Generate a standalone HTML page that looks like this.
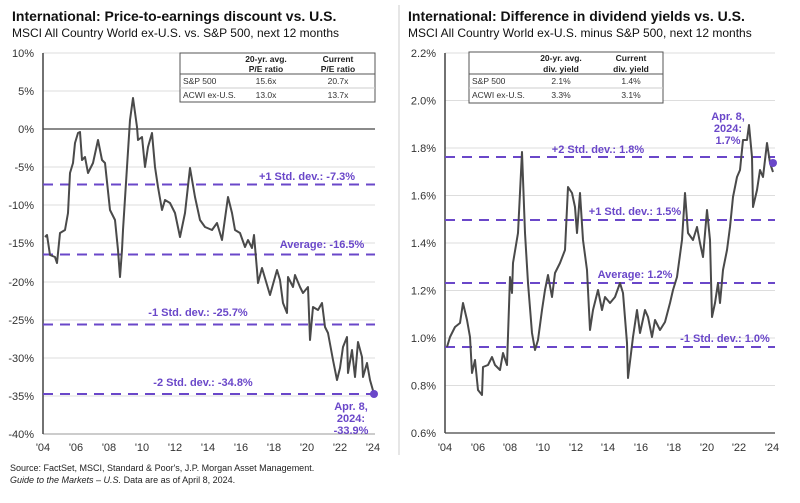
<!DOCTYPE html>
<html><head><meta charset="utf-8"><style>
body{margin:0;background:#fff;width:800px;height:498px;overflow:hidden;font-family:"Liberation Sans",Arial,sans-serif}
svg text{font-family:"Liberation Sans",Arial,sans-serif}
</style></head><body>
<svg width="800" height="498" viewBox="0 0 800 498" xmlns="http://www.w3.org/2000/svg">
<rect width="800" height="498" fill="#fff"/>
<line x1="399" y1="5" x2="399" y2="455" stroke="#ccc" stroke-width="1"/>
<!-- LEFT -->
<text x="12" y="21" font-size="14" font-weight="bold" fill="#111">International: Price-to-earnings discount vs. U.S.</text>
<text x="12" y="37" font-size="12" fill="#111">MSCI All Country World ex-U.S. vs. S&amp;P 500, next 12 months</text>
<g stroke="#ddd" stroke-width="1">
<line x1="43" y1="53" x2="375" y2="53"/><line x1="43" y1="91" x2="375" y2="91"/>
<line x1="43" y1="167" x2="375" y2="167"/><line x1="43" y1="205" x2="375" y2="205"/>
<line x1="43" y1="243" x2="375" y2="243"/><line x1="43" y1="282" x2="375" y2="282"/>
<line x1="43" y1="320" x2="375" y2="320"/><line x1="43" y1="358" x2="375" y2="358"/>
<line x1="43" y1="396" x2="375" y2="396"/>
</g>
<line x1="43" y1="129" x2="375" y2="129" stroke="#444" stroke-width="1.2"/>
<line x1="43" y1="434" x2="375" y2="434" stroke="#999" stroke-width="1"/>
<line x1="43" y1="53" x2="43" y2="434" stroke="#444" stroke-width="1.5"/>
<g font-size="11" fill="#333" text-anchor="end">
<text x="34" y="57">10%</text><text x="34" y="95">5%</text><text x="34" y="133">0%</text>
<text x="34" y="171">-5%</text><text x="34" y="209">-10%</text><text x="34" y="247">-15%</text>
<text x="34" y="286">-20%</text><text x="34" y="324">-25%</text><text x="34" y="362">-30%</text>
<text x="34" y="400">-35%</text><text x="34" y="438">-40%</text>
</g>
<g font-size="11" fill="#333" text-anchor="middle">
<text x="43" y="451">'04</text><text x="76" y="451">'06</text><text x="109" y="451">'08</text>
<text x="142" y="451">'10</text><text x="175" y="451">'12</text><text x="208" y="451">'14</text>
<text x="241" y="451">'16</text><text x="274" y="451">'18</text><text x="307" y="451">'20</text>
<text x="340" y="451">'22</text><text x="373" y="451">'24</text>
</g>
<g stroke="#6a47c9" stroke-width="2" stroke-dasharray="10,7">
<line x1="43" y1="184.5" x2="375" y2="184.5"/><line x1="43" y1="254.5" x2="375" y2="254.5"/>
<line x1="43" y1="324.5" x2="375" y2="324.5"/><line x1="43" y1="394" x2="375" y2="394"/>
</g>
<g font-size="11" font-weight="bold" fill="#6a47c9" text-anchor="middle">
<text x="307" y="180">+1 Std. dev.: -7.3%</text>
<text x="322" y="248">Average: -16.5%</text>
<text x="198" y="316">-1 Std. dev.: -25.7%</text>
<text x="203" y="386">-2 Std. dev.: -34.8%</text>
<text x="351" y="410">Apr. 8,</text><text x="351" y="422">2024:</text><text x="351" y="434">-33.9%</text>
</g>
<polyline fill="none" stroke="#4a4a4a" stroke-width="2" stroke-linejoin="round" points="45,237 47,235 50,255 55,257 57,263 60,233 65,230 68,213 70,173 73,163 75,143 78,133 80,132 82,160 85,157 88,173 93,163 98,140 102,160 105,163 110,210 115,220 118,250 120,277 122,250 123,230 127,167 130,120 133,98 137,127 138,140 142,137 145,167 148,147 152,133 155,167 158,187 162,210 165,200 170,203 175,213 180,237 185,213 190,168 195,197 200,220 205,227 212,230 217,223 222,240 228,197 232,213 235,230 240,233 245,247 248,240 252,248 254,235 257,270 258,283 262,268 270,295 277,270 280,280 283,303 287,313 288,277 293,287 295,275 300,287 303,293 308,287 310,340 313,307 318,310 322,303 325,327 328,333 333,360 337,380 340,368 343,347 347,337 348,373 352,350 355,377 358,342 362,357 363,377 367,363 370,380 374,394"/>
<circle cx="374" cy="394" r="4" fill="#6a47c9"/>
<g>
<rect x="180" y="53" width="195" height="49" fill="#fff" stroke="#555" stroke-width="1"/>
<line x1="180" y1="74" x2="375" y2="74" stroke="#555"/>
<line x1="180" y1="88" x2="375" y2="88" stroke="#ccc"/>
<g font-size="8.5" font-weight="bold" fill="#222" text-anchor="middle"><text x="266" y="62">20-yr. avg.</text><text x="266" y="72">P/E ratio</text><text x="338" y="62">Current</text><text x="338" y="72">P/E ratio</text></g>
<g font-size="8.5" fill="#333"><text x="183" y="84">S&amp;P 500</text><text x="183" y="98">ACWI ex-U.S.</text></g>
<g font-size="8.5" fill="#333" text-anchor="middle"><text x="266" y="84">15.6x</text><text x="266" y="98">13.0x</text><text x="338" y="84">20.7x</text><text x="338" y="98">13.7x</text></g>
</g>
<text x="10" y="471" font-size="9" fill="#222">Source: FactSet, MSCI, Standard &amp; Poor's, J.P. Morgan Asset Management.</text>
<text x="10" y="483" font-size="9" fill="#222"><tspan font-style="italic">Guide to the Markets – U.S.</tspan> Data are as of April 8, 2024.</text>
<!-- RIGHT -->
<text x="408" y="21" font-size="14" font-weight="bold" fill="#111">International: Difference in dividend yields vs. U.S.</text>
<text x="408" y="37" font-size="12" fill="#111">MSCI All Country World ex-U.S. minus S&amp;P 500, next 12 months</text>
<g stroke="#ddd" stroke-width="1">
<line x1="445" y1="53" x2="775" y2="53"/><line x1="445" y1="100.5" x2="775" y2="100.5"/>
<line x1="445" y1="148" x2="775" y2="148"/><line x1="445" y1="195.5" x2="775" y2="195.5"/>
<line x1="445" y1="243" x2="775" y2="243"/><line x1="445" y1="290.5" x2="775" y2="290.5"/>
<line x1="445" y1="338" x2="775" y2="338"/><line x1="445" y1="385.5" x2="775" y2="385.5"/>
</g>
<line x1="445" y1="433" x2="775" y2="433" stroke="#444" stroke-width="1.2"/>
<line x1="445" y1="53" x2="445" y2="433" stroke="#444" stroke-width="1.5"/>
<g font-size="11" fill="#333" text-anchor="end">
<text x="436" y="57">2.2%</text><text x="436" y="104.5">2.0%</text><text x="436" y="152">1.8%</text>
<text x="436" y="199.5">1.6%</text><text x="436" y="247">1.4%</text><text x="436" y="294.5">1.2%</text>
<text x="436" y="342">1.0%</text><text x="436" y="389.5">0.8%</text><text x="436" y="437">0.6%</text>
</g>
<g font-size="11" fill="#333" text-anchor="middle">
<text x="445" y="451">'04</text><text x="478" y="451">'06</text><text x="510" y="451">'08</text>
<text x="543" y="451">'10</text><text x="576" y="451">'12</text><text x="608" y="451">'14</text>
<text x="641" y="451">'16</text><text x="674" y="451">'18</text><text x="707" y="451">'20</text>
<text x="739" y="451">'22</text><text x="772" y="451">'24</text>
</g>
<g stroke="#6a47c9" stroke-width="2" stroke-dasharray="10,7">
<line x1="445" y1="157" x2="775" y2="157"/><line x1="445" y1="220" x2="775" y2="220"/>
<line x1="445" y1="283" x2="775" y2="283"/><line x1="445" y1="347" x2="775" y2="347"/>
</g>
<g font-size="11" font-weight="bold" fill="#6a47c9" text-anchor="middle">
<text x="598" y="153">+2 Std. dev.: 1.8%</text>
<text x="635" y="215">+1 Std. dev.: 1.5%</text>
<text x="635" y="278">Average: 1.2%</text>
<text x="725" y="342">-1 Std. dev.: 1.0%</text>
<text x="728" y="120">Apr. 8,</text><text x="728" y="132">2024:</text><text x="728" y="144">1.7%</text>
</g>
<polyline fill="none" stroke="#4a4a4a" stroke-width="2" stroke-linejoin="round" points="447,347 450,337 455,327 460,323 463,303 467,320 470,337 472,373 475,360 478,390 482,395 483,367 488,365 492,357 495,365 500,370 503,353 507,365 510,277 512,293 513,263 518,233 522,152 525,233 528,283 532,333 535,350 538,340 542,310 545,290 548,275 552,297 555,273 560,263 565,250 568,187 572,193 575,207 577,233 580,193 583,240 587,270 590,330 593,310 598,290 602,310 605,297 610,303 615,297 620,283 623,293 627,343 628,378 633,337 637,310 640,333 645,310 648,317 652,337 655,320 660,330 665,322 670,303 673,290 677,277 682,240 685,193 688,233 693,240 697,227 700,243 703,257 707,210 710,240 712,317 715,303 718,283 720,303 723,270 727,250 730,227 733,197 737,177 740,170 743,140 747,140 749,125 752,157 753,207 757,190 760,170 763,177 767,143 770,163 773,172"/>
<circle cx="773" cy="163" r="4" fill="#6a47c9"/>
<g>
<rect x="469" y="52" width="194" height="51" fill="#fff" stroke="#555" stroke-width="1"/>
<line x1="469" y1="74" x2="663" y2="74" stroke="#555"/>
<line x1="469" y1="88" x2="663" y2="88" stroke="#ccc"/>
<g font-size="8.5" font-weight="bold" fill="#222" text-anchor="middle"><text x="561" y="61">20-yr. avg.</text><text x="561" y="72">div. yield</text><text x="631" y="61">Current</text><text x="631" y="72">div. yield</text></g>
<g font-size="8.5" fill="#333"><text x="472" y="84">S&amp;P 500</text><text x="472" y="98">ACWI ex-U.S.</text></g>
<g font-size="8.5" fill="#333" text-anchor="middle"><text x="561" y="84">2.1%</text><text x="561" y="98">3.3%</text><text x="631" y="84">1.4%</text><text x="631" y="98">3.1%</text></g>
</g>
</svg>
</body></html>
